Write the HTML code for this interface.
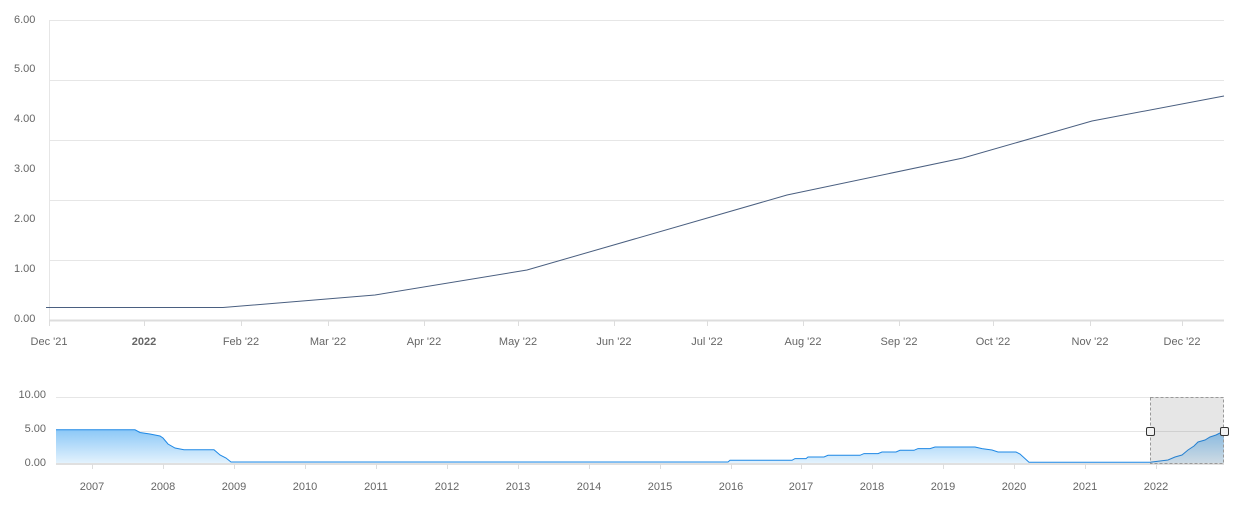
<!DOCTYPE html>
<html><head><meta charset="utf-8"><style>
body{margin:0;background:#fff;}
svg text{font-family:"Liberation Sans",sans-serif;font-size:11px;fill:#666;}
</style></head><body>
<svg width="1244" height="511" xmlns="http://www.w3.org/2000/svg">
<g stroke="#e6e6e6" stroke-width="1">
<line x1="49" y1="20.5" x2="1224" y2="20.5"/>
<line x1="49" y1="80.5" x2="1224" y2="80.5"/>
<line x1="49" y1="140.5" x2="1224" y2="140.5"/>
<line x1="49" y1="200.5" x2="1224" y2="200.5"/>
<line x1="49" y1="260.5" x2="1224" y2="260.5"/>
<line x1="49.5" y1="20" x2="49.5" y2="320"/>
</g>
<line x1="49" y1="320.5" x2="1224" y2="320.5" stroke="#ddd" stroke-width="2"/>
<g stroke="#ddd">
<line x1="49.5" y1="320" x2="49.5" y2="326"/><line x1="144.5" y1="320" x2="144.5" y2="326"/><line x1="241.5" y1="320" x2="241.5" y2="326"/><line x1="328.5" y1="320" x2="328.5" y2="326"/><line x1="424.5" y1="320" x2="424.5" y2="326"/><line x1="518.5" y1="320" x2="518.5" y2="326"/><line x1="614.5" y1="320" x2="614.5" y2="326"/><line x1="707.5" y1="320" x2="707.5" y2="326"/><line x1="803.5" y1="320" x2="803.5" y2="326"/><line x1="899.5" y1="320" x2="899.5" y2="326"/><line x1="993.5" y1="320" x2="993.5" y2="326"/><line x1="1090.5" y1="320" x2="1090.5" y2="326"/><line x1="1182.5" y1="320" x2="1182.5" y2="326"/>
</g>
<g text-anchor="start">
<text x="14" y="23">6.00</text><text x="14" y="72">5.00</text><text x="14" y="122">4.00</text><text x="14" y="172">3.00</text><text x="14" y="222">2.00</text><text x="14" y="272">1.00</text><text x="14" y="322">0.00</text>
</g>
<g text-anchor="middle">
<text x="49" y="345">Dec '21</text><text x="144" y="345" style="font-weight:bold">2022</text><text x="241" y="345">Feb '22</text><text x="328" y="345">Mar '22</text><text x="424" y="345">Apr '22</text><text x="518" y="345">May '22</text><text x="614" y="345">Jun '22</text><text x="707" y="345">Jul '22</text><text x="803" y="345">Aug '22</text><text x="899" y="345">Sep '22</text><text x="993" y="345">Oct '22</text><text x="1090" y="345">Nov '22</text><text x="1182" y="345">Dec '22</text>
</g>
<polyline fill="none" stroke="#4a5f80" stroke-width="1" points="46,307.5 223,307.5 375,295 527,270 787,195 963,158 1092,121 1224,96"/>

<defs><linearGradient id="g" x1="0" y1="0" x2="0" y2="1"><stop offset="0" stop-color="#8cc8f7"/><stop offset="1" stop-color="#e3f2fd"/></linearGradient></defs>
<g stroke="#e6e6e6"><line x1="56" y1="397.5" x2="1224" y2="397.5"/><line x1="56" y1="431.5" x2="1224" y2="431.5"/></g>
<line x1="56" y1="464" x2="1224" y2="464" stroke="#e0e0e0" stroke-width="2"/>
<g text-anchor="end"><text x="46" y="398">10.00</text><text x="46" y="432">5.00</text><text x="46" y="466">0.00</text></g>
<path fill="url(#g)" stroke="none" d="M56,463 L56,429.8 L135,429.8 L140,432.5 L150,434 L160,436 L163,438 L168,444 L175,448 L184,449.8 L214,449.8 L220,455 L226,458 L231,462 L728,462 L730,460.3 L792,460.3 L795,458.6 L806,458.6 L808,457 L824,457 L828,455.3 L860,455.3 L864,453.6 L878,453.6 L882,452 L896,452 L900,450.3 L914,450.3 L918,448.6 L930,448.6 L935,447 L975,447 L982,448.6 L992,450 L998,452 L1016,452 L1020,454 L1029,462.3 L1150,462.3 L1160,461 L1168,460 L1175,457 L1182,455 L1188,450 L1194,446 L1198,442 L1205,440 L1210,437 L1216,435 L1224,431 L1224,463 Z"/>
<polyline fill="none" stroke="#1e88e5" stroke-width="1" points="56,429.8 135,429.8 140,432.5 150,434 160,436 163,438 168,444 175,448 184,449.8 214,449.8 220,455 226,458 231,462 728,462 730,460.3 792,460.3 795,458.6 806,458.6 808,457 824,457 828,455.3 860,455.3 864,453.6 878,453.6 882,452 896,452 900,450.3 914,450.3 918,448.6 930,448.6 935,447 975,447 982,448.6 992,450 998,452 1016,452 1020,454 1029,462.3 1150,462.3 1160,461 1168,460 1175,457 1182,455 1188,450 1194,446 1198,442 1205,440 1210,437 1216,435 1224,431"/>
<rect x="1150.5" y="397.5" width="73" height="66" fill="#555" fill-opacity="0.15" stroke="#999" stroke-dasharray="3,2"/>
<rect x="1146.5" y="427.5" width="8" height="8" rx="1.5" fill="#f2f2f2" stroke="#333"/>
<rect x="1220.5" y="427.5" width="8" height="8" rx="1.5" fill="#f2f2f2" stroke="#333"/>
<g stroke="#ddd">
<line x1="92.5" y1="464" x2="92.5" y2="469"/><line x1="163.5" y1="464" x2="163.5" y2="469"/><line x1="234.5" y1="464" x2="234.5" y2="469"/><line x1="305.5" y1="464" x2="305.5" y2="469"/><line x1="376.5" y1="464" x2="376.5" y2="469"/><line x1="447.5" y1="464" x2="447.5" y2="469"/><line x1="518.5" y1="464" x2="518.5" y2="469"/><line x1="589.5" y1="464" x2="589.5" y2="469"/><line x1="660.5" y1="464" x2="660.5" y2="469"/><line x1="731.5" y1="464" x2="731.5" y2="469"/><line x1="801.5" y1="464" x2="801.5" y2="469"/><line x1="872.5" y1="464" x2="872.5" y2="469"/><line x1="943.5" y1="464" x2="943.5" y2="469"/><line x1="1014.5" y1="464" x2="1014.5" y2="469"/><line x1="1085.5" y1="464" x2="1085.5" y2="469"/><line x1="1156.5" y1="464" x2="1156.5" y2="469"/>
</g>
<g text-anchor="middle" style="font-size:12px">
<text x="92" y="490">2007</text><text x="163" y="490">2008</text><text x="234" y="490">2009</text><text x="305" y="490">2010</text><text x="376" y="490">2011</text><text x="447" y="490">2012</text><text x="518" y="490">2013</text><text x="589" y="490">2014</text><text x="660" y="490">2015</text><text x="731" y="490">2016</text><text x="801" y="490">2017</text><text x="872" y="490">2018</text><text x="943" y="490">2019</text><text x="1014" y="490">2020</text><text x="1085" y="490">2021</text><text x="1156" y="490">2022</text>
</g>
</svg>
</body></html>
